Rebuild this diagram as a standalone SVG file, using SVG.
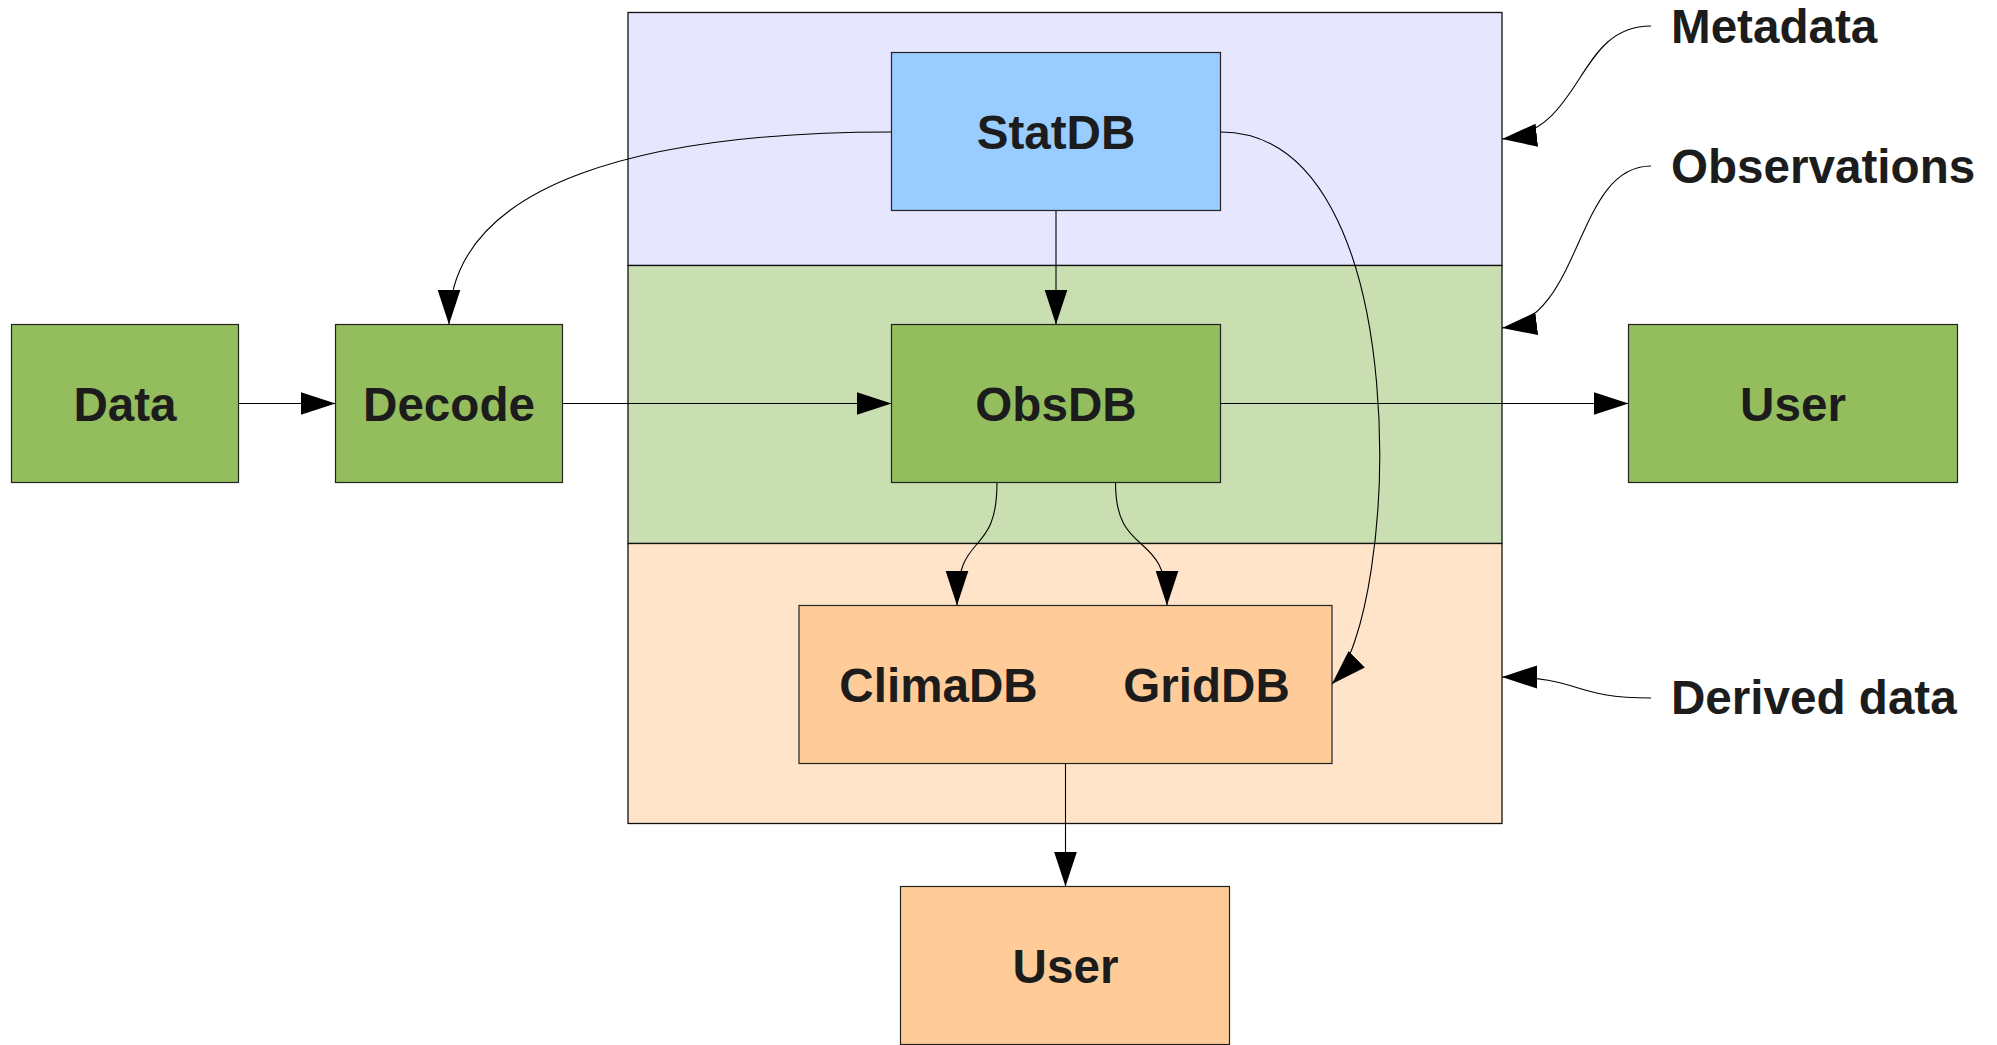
<svg xmlns="http://www.w3.org/2000/svg" width="1997" height="1045" viewBox="0 0 1997 1045">
  <style>
    .node { stroke: #222222; stroke-width: 1.2; }
    .green { fill: #94be5e; }
    .blue { fill: #99ccff; }
    .orange { fill: #ffcc99; }
    .band { stroke: #111111; stroke-width: 1.3; }
    .lbl { font-family: "Liberation Sans", Arial, sans-serif; font-weight: bold; font-size: 47.6px; fill: #1c1c1c; }
    .mid { text-anchor: middle; }
    .conn path { fill: none; stroke: #000000; stroke-width: 1.1; marker-end: url(#arrow); }
  </style>
  <defs>
    <marker id="arrow" markerUnits="userSpaceOnUse" markerWidth="35" markerHeight="24" viewBox="0 0 35 23" refX="35" refY="11.5" orient="auto">
      <path d="M0,0 L35,11.5 L0,23 Z" fill="#000000"/>
    </marker>
  </defs>

  <rect width="1997" height="1045" fill="#ffffff"/>

  <!-- layered store panel -->
  <g id="panel">
    <rect id="band-metadata" class="band" x="628" y="12.5" width="874" height="253" fill="#e6e6ff"/>
    <rect id="band-observations" class="band" x="628" y="265.5" width="874" height="278" fill="#c9dfb1"/>
    <rect id="band-derived" class="band" x="628" y="543.5" width="874" height="280" fill="#ffe4ca"/>
  </g>

  <!-- connectors -->
  <g id="connectors" class="conn">
    <path id="data-decode" d="M238.5,403.5 L335.5,403.5"/>
    <path id="decode-obsdb" d="M562.5,403.5 L891.5,403.5"/>
    <path id="obsdb-user" d="M1220.5,403.5 L1628.5,403.5"/>
    <path id="statdb-obsdb" d="M1056,210.5 L1056,324.5"/>
    <path id="statdb-decode" d="M891.5,132 C650,132 449,180 449,324.5"/>
    <path id="statdb-griddb" d="M1220.5,132 C1420,132 1400,616 1332,684"/>
    <path id="obsdb-climadb" d="M997,482.5 C997,560 957,528 957,605.5"/>
    <path id="obsdb-griddb" d="M1115.5,482.5 C1115.5,560 1167,528 1167,605.5"/>
    <path id="derived-user" d="M1065.5,763.5 L1065.5,886.5"/>
    <path id="note-metadata" d="M1651,26 C1575,26 1585,130 1502,139"/>
    <path id="note-observations" d="M1651,166 C1575,166 1583,318 1502,328"/>
    <path id="note-derived" d="M1651,698 C1570,698 1583,677 1502,677"/>
  </g>

  <!-- nodes -->
  <g id="data">
    <rect class="node green" x="11.5" y="324.5" width="227" height="158"/>
    <text class="lbl mid" x="125" y="420.5">Data</text>
  </g>
  <g id="decode">
    <rect class="node green" x="335.5" y="324.5" width="227" height="158"/>
    <text class="lbl mid" x="449" y="420.5">Decode</text>
  </g>
  <g id="statdb">
    <rect class="node blue" x="891.5" y="52.5" width="329" height="158"/>
    <text class="lbl mid" x="1056" y="148.5">StatDB</text>
  </g>
  <g id="obsdb">
    <rect class="node green" x="891.5" y="324.5" width="329" height="158"/>
    <text class="lbl mid" x="1056" y="420.5">ObsDB</text>
  </g>
  <g id="user-obs">
    <rect class="node green" x="1628.5" y="324.5" width="329" height="158"/>
    <text class="lbl mid" x="1793" y="420.5">User</text>
  </g>
  <g id="derived">
    <rect class="node orange" x="799" y="605.5" width="533" height="158"/>
    <text class="lbl mid" x="938.5" y="701.5">ClimaDB</text>
    <text class="lbl mid" x="1206.5" y="701.5">GridDB</text>
  </g>
  <g id="user-derived">
    <rect class="node orange" x="900.5" y="886.5" width="329" height="158"/>
    <text class="lbl mid" x="1065.5" y="982.5">User</text>
  </g>

  <!-- layer labels -->
  <g id="labels">
    <text class="lbl" x="1671" y="43">Metadata</text>
    <text class="lbl" x="1671" y="183">Observations</text>
    <text class="lbl" x="1671" y="714">Derived data</text>
  </g>
</svg>
